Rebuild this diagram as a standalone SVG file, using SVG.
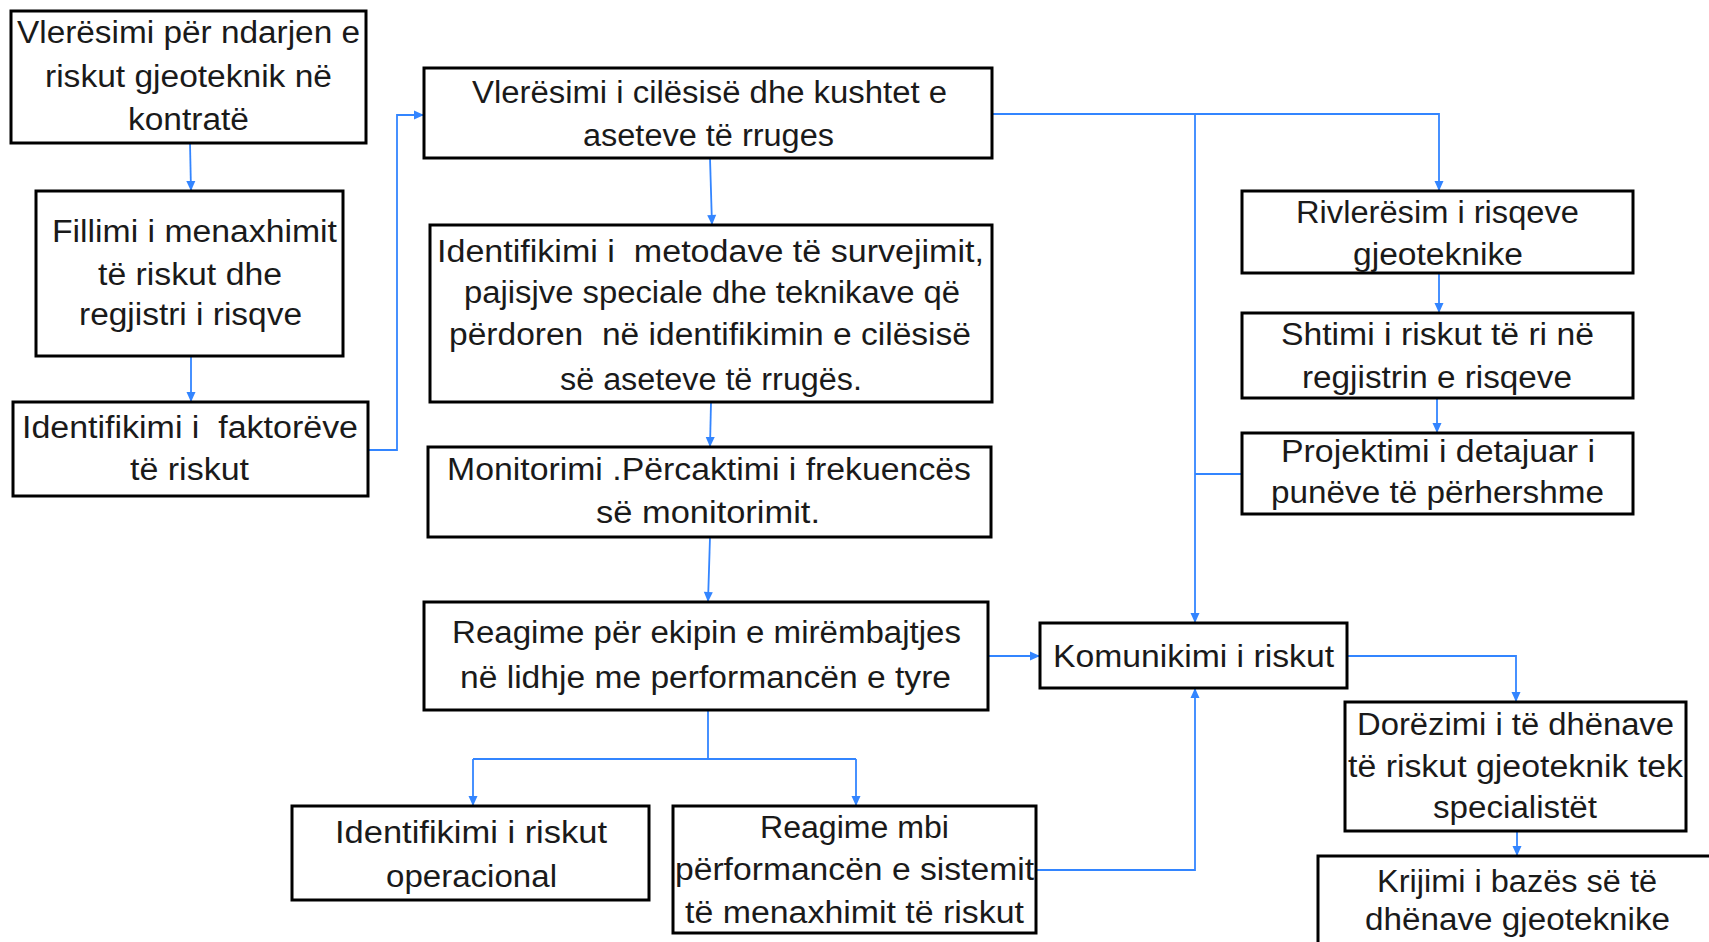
<svg xmlns="http://www.w3.org/2000/svg" width="1709" height="942" viewBox="0 0 1709 942">
<style>
.box{fill:#fff;stroke:#000;stroke-width:3}
.t{font-family:"Liberation Sans",Arial,sans-serif;font-size:31px;fill:#1a1a1a;white-space:pre}
.c{fill:none;stroke:#3385ff;stroke-width:1.8}
</style>
<defs>
<marker id="ah" markerUnits="userSpaceOnUse" markerWidth="12" markerHeight="12" viewBox="0 0 12 12" refX="11" refY="6" orient="auto">
<path d="M1,1.5 L11,6 L1,10.5 Z" fill="#3385ff"/>
</marker>
</defs>
<rect width="1709" height="942" fill="#fff"/>
<g id="connectors">
<path class="c" d="M190,143 L191,191" marker-end="url(#ah)"/>
<path class="c" d="M191,356 L191,402" marker-end="url(#ah)"/>
<path class="c" d="M368,450 H397 V115 H424" marker-end="url(#ah)"/>
<path class="c" d="M710,158 L712,225" marker-end="url(#ah)"/>
<path class="c" d="M711,402 L710,447" marker-end="url(#ah)"/>
<path class="c" d="M710,537 L708,602" marker-end="url(#ah)"/>
<path class="c" d="M988,656 H1040" marker-end="url(#ah)"/>
<path class="c" d="M708,710 V759 M473,759 H856"/>
<path class="c" d="M473,759 V806" marker-end="url(#ah)"/>
<path class="c" d="M856,759 V806" marker-end="url(#ah)"/>
<path class="c" d="M1036,870 H1195 V688" marker-end="url(#ah)"/>
<path class="c" d="M992,114 H1439 V191" marker-end="url(#ah)"/>
<path class="c" d="M1195,114 V623" marker-end="url(#ah)"/>
<path class="c" d="M1195,474 H1242"/>
<path class="c" d="M1439,273 V313" marker-end="url(#ah)"/>
<path class="c" d="M1437,398 V433" marker-end="url(#ah)"/>
<path class="c" d="M1347,656 H1516 V702" marker-end="url(#ah)"/>
<path class="c" d="M1517,831 V856" marker-end="url(#ah)"/>
</g>
<g id="n1"><rect class="box" x="11" y="11" width="355" height="132"/>
<text class="t" x="17" y="43" textLength="343" lengthAdjust="spacingAndGlyphs">Vlerësimi për ndarjen e</text>
<text class="t" x="45" y="87" textLength="287" lengthAdjust="spacingAndGlyphs">riskut gjeoteknik në</text>
<text class="t" x="128" y="130" textLength="121" lengthAdjust="spacingAndGlyphs">kontratë</text></g>
<g id="n2"><rect class="box" x="36" y="191" width="307" height="165"/>
<text class="t" x="52" y="242" textLength="285" lengthAdjust="spacingAndGlyphs">Fillimi i menaxhimit</text>
<text class="t" x="98" y="285" textLength="184" lengthAdjust="spacingAndGlyphs">të riskut dhe</text>
<text class="t" x="79" y="325" textLength="223" lengthAdjust="spacingAndGlyphs">regjistri i risqve</text></g>
<g id="n3"><rect class="box" x="13" y="402" width="355" height="94"/>
<text class="t" x="22" y="438" textLength="336" lengthAdjust="spacingAndGlyphs">Identifikimi i  faktorëve</text>
<text class="t" x="130" y="480" textLength="119" lengthAdjust="spacingAndGlyphs">të riskut</text></g>
<g id="n4"><rect class="box" x="424" y="68" width="568" height="90"/>
<text class="t" x="472" y="103" textLength="475" lengthAdjust="spacingAndGlyphs">Vlerësimi i cilësisë dhe kushtet e</text>
<text class="t" x="583" y="146" textLength="251" lengthAdjust="spacingAndGlyphs">aseteve të rruges</text></g>
<g id="n5"><rect class="box" x="430" y="225" width="562" height="177"/>
<text class="t" x="437" y="262" textLength="547" lengthAdjust="spacingAndGlyphs">Identifikimi i  metodave të survejimit,</text>
<text class="t" x="464" y="303" textLength="496" lengthAdjust="spacingAndGlyphs">pajisjve speciale dhe teknikave që</text>
<text class="t" x="449" y="345" textLength="522" lengthAdjust="spacingAndGlyphs">përdoren  në identifikimin e cilësisë</text>
<text class="t" x="560" y="390" textLength="302" lengthAdjust="spacingAndGlyphs">së aseteve të rrugës.</text></g>
<g id="n6"><rect class="box" x="428" y="447" width="563" height="90"/>
<text class="t" x="447" y="480" textLength="524" lengthAdjust="spacingAndGlyphs">Monitorimi .Përcaktimi i frekuencës</text>
<text class="t" x="596" y="523" textLength="224" lengthAdjust="spacingAndGlyphs">së monitorimit.</text></g>
<g id="n7"><rect class="box" x="424" y="602" width="564" height="108"/>
<text class="t" x="452" y="643" textLength="509" lengthAdjust="spacingAndGlyphs">Reagime për ekipin e mirëmbajtjes</text>
<text class="t" x="460" y="688" textLength="491" lengthAdjust="spacingAndGlyphs">në lidhje me performancën e tyre</text></g>
<g id="n8"><rect class="box" x="292" y="806" width="357" height="94"/>
<text class="t" x="335" y="843" textLength="272" lengthAdjust="spacingAndGlyphs">Identifikimi i riskut</text>
<text class="t" x="386" y="887" textLength="171" lengthAdjust="spacingAndGlyphs">operacional</text></g>
<g id="n9"><rect class="box" x="673" y="806" width="363" height="127"/>
<text class="t" x="760" y="838" textLength="189" lengthAdjust="spacingAndGlyphs">Reagime mbi</text>
<text class="t" x="675" y="880" textLength="359" lengthAdjust="spacingAndGlyphs">përformancën e sistemit</text>
<text class="t" x="685" y="923" textLength="339" lengthAdjust="spacingAndGlyphs">të menaxhimit të riskut</text></g>
<g id="n10"><rect class="box" x="1040" y="623" width="307" height="65"/>
<text class="t" x="1053" y="667" textLength="281" lengthAdjust="spacingAndGlyphs">Komunikimi i riskut</text></g>
<g id="n11"><rect class="box" x="1242" y="191" width="391" height="82"/>
<text class="t" x="1296" y="223" textLength="283" lengthAdjust="spacingAndGlyphs">Rivlerësim i risqeve</text>
<text class="t" x="1353" y="265" textLength="170" lengthAdjust="spacingAndGlyphs">gjeoteknike</text></g>
<g id="n12"><rect class="box" x="1242" y="313" width="391" height="85"/>
<text class="t" x="1281" y="345" textLength="313" lengthAdjust="spacingAndGlyphs">Shtimi i riskut të ri në</text>
<text class="t" x="1302" y="388" textLength="270" lengthAdjust="spacingAndGlyphs">regjistrin e risqeve</text></g>
<g id="n13"><rect class="box" x="1242" y="433" width="391" height="81"/>
<text class="t" x="1281" y="462" textLength="314" lengthAdjust="spacingAndGlyphs">Projektimi i detajuar i</text>
<text class="t" x="1271" y="503" textLength="333" lengthAdjust="spacingAndGlyphs">punëve të përhershme</text></g>
<g id="n14"><rect class="box" x="1345" y="702" width="341" height="129"/>
<text class="t" x="1357" y="735" textLength="317" lengthAdjust="spacingAndGlyphs">Dorëzimi i të dhënave</text>
<text class="t" x="1348" y="777" textLength="335" lengthAdjust="spacingAndGlyphs">të riskut gjeoteknik tek</text>
<text class="t" x="1433" y="818" textLength="164" lengthAdjust="spacingAndGlyphs">specialistët</text></g>
<g id="n15"><rect class="box" x="1318" y="856" width="395" height="92"/>
<text class="t" x="1377" y="892" textLength="280" lengthAdjust="spacingAndGlyphs">Krijimi i bazës së të</text>
<text class="t" x="1365" y="930" textLength="305" lengthAdjust="spacingAndGlyphs">dhënave gjeoteknike</text></g>
</svg>
